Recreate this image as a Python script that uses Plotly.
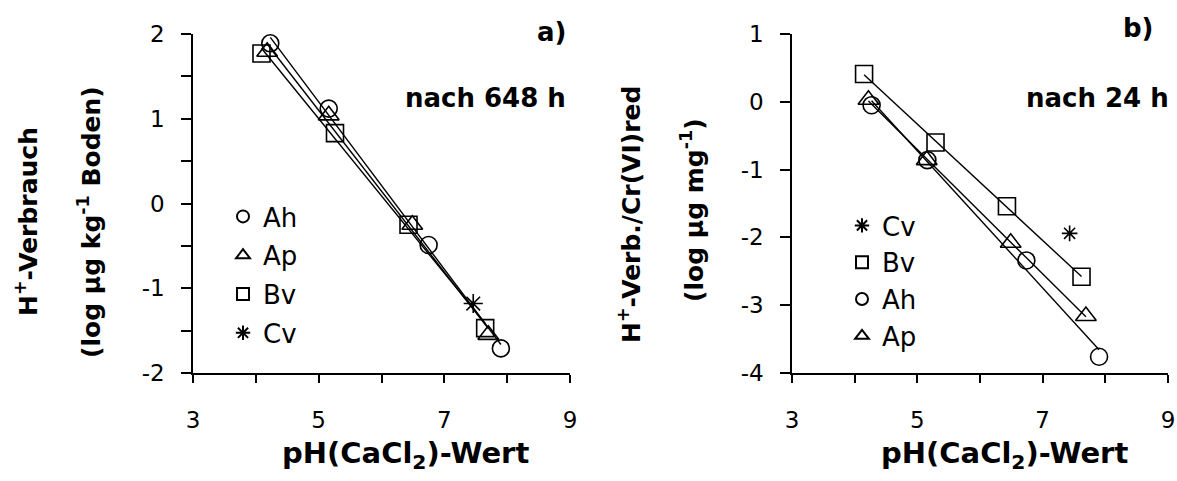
import numpy as np
import plotly.graph_objects as go

FONT = "DejaVu Sans"
W, H = 1177, 481

# ---------------- data ----------------
# Panel a) nach 648 h : pH(CaCl2) vs log H+-Verbrauch
a_ah_ph = [4.23, 5.16, 6.75, 7.90]
a_ah_val = [1.89, 1.12, -0.49, -1.71]
a_ap_ph = [4.18, 5.16, 6.49, 7.70]
a_ap_val = [1.79, 1.04, -0.25, -1.55]
a_bv_ph = [4.09, 5.26, 6.43, 7.65]
a_bv_val = [1.77, 0.83, -0.25, -1.47]
a_cv_ph = [7.46]
a_cv_val = [-1.18]

# Panel b) nach 24 h : pH(CaCl2) vs log H+-Verb./Cr(VI)red
b_cv_ph = [7.43]
b_cv_val = [-1.94]
b_bv_ph = [4.15, 5.29, 6.43, 7.62]
b_bv_val = [0.41, -0.60, -1.54, -2.58]
b_ah_ph = [4.27, 5.16, 6.74, 7.90]
b_ah_val = [-0.05, -0.86, -2.34, -3.76]
b_ap_ph = [4.22, 5.15, 6.49, 7.69]
b_ap_val = [0.03, -0.86, -2.08, -3.16]

# ticks
x_tick_vals = [3, 5, 7, 9]
x_tick_text = ["3", "5", "7", "9"]
ya_tick_vals = [-2, -1, 0, 1, 2]
ya_tick_text = ["-2", "-1", "0", "1", "2"]
yb_tick_vals = [-4, -3, -2, -1, 0, 1]
yb_tick_text = ["-4", "-3", "-2", "-1", "0", "1"]

# ---------------- figure ----------------
fig = go.Figure()


def px_x(p):
    return p / W


def px_y(p):
    return 1 - p / H


def fit_line(xs, ys):
    k, d = np.polyfit(xs, ys, 1)
    xx = np.array([min(xs), max(xs)])
    return xx, k * xx + d


LINE = dict(color="black", width=1.4)
MLINE = dict(color="black", width=1.6)

# panel a: regression lines
for xs, ys in [(a_ah_ph, a_ah_val), (a_ap_ph, a_ap_val), (a_bv_ph, a_bv_val)]:
    lx, ly = fit_line(xs, ys)
    fig.add_trace(go.Scatter(x=lx, y=ly, mode="lines", line=LINE, showlegend=False,
                             hoverinfo="skip", xaxis="x", yaxis="y"))

# panel a: markers
a_series = [
    ("Ah", a_ah_ph, a_ah_val, "circle-open", 17),
    ("Ap", a_ap_ph, a_ap_val, "triangle-up-open", 18),
    ("Bv", a_bv_ph, a_bv_val, "square-open", 17),
    ("Cv", a_cv_ph, a_cv_val, "asterisk-open", 16),
]
for name, xs, ys, sym, sz in a_series:
    fig.add_trace(go.Scatter(x=xs, y=ys, mode="markers", name=name, legendgroup="a" + name,
                             marker=dict(symbol=sym, size=sz, color="black", line=MLINE),
                             xaxis="x", yaxis="y", legend="legend"))

# panel b: regression lines
for xs, ys in [(b_bv_ph, b_bv_val), (b_ah_ph, b_ah_val), (b_ap_ph, b_ap_val)]:
    lx, ly = fit_line(xs, ys)
    fig.add_trace(go.Scatter(x=lx, y=ly, mode="lines", line=LINE, showlegend=False,
                             hoverinfo="skip", xaxis="x2", yaxis="y2"))

b_series = [
    ("Cv", b_cv_ph, b_cv_val, "asterisk-open", 13),
    ("Bv", b_bv_ph, b_bv_val, "square-open", 17),
    ("Ah", b_ah_ph, b_ah_val, "circle-open", 17),
    ("Ap", b_ap_ph, b_ap_val, "triangle-up-open", 18),
]
for name, xs, ys, sym, sz in b_series:
    fig.add_trace(go.Scatter(x=xs, y=ys, mode="markers", name=name, legendgroup="b" + name,
                             marker=dict(symbol=sym, size=sz, color="black", line=MLINE),
                             xaxis="x2", yaxis="y2", legend="legend2"))


def xaxis_cfg(domain, anchor):
    return dict(domain=domain, range=[3, 9], tickvals=x_tick_vals, ticktext=x_tick_text,
                ticks="outside", ticklen=8, tickwidth=1.5, tickcolor="black",
                minor=dict(dtick=1, tick0=3, ticks="outside", ticklen=8, tickwidth=1.5,
                           tickcolor="black", showgrid=False),
                showline=True, linecolor="black", linewidth=1.5,
                showgrid=False, zeroline=False, anchor=anchor, automargin=False,
                tickfont=dict(size=23, color="black", family=FONT),
                ticklabelstandoff=18, fixedrange=True)


def yaxis_cfg(rng, vals, text, anchor, minor_dtick):
    return dict(domain=[px_y(373), px_y(34)], range=rng, tickvals=vals, ticktext=text,
                ticks="outside", ticklen=10, tickwidth=1.5, tickcolor="black",
                minor=dict(dtick=minor_dtick, tick0=0, ticks="outside", ticklen=10,
                           tickwidth=1.5, tickcolor="black", showgrid=False),
                showline=True, linecolor="black", linewidth=1.5,
                showgrid=False, zeroline=False, anchor=anchor, automargin=False,
                tickfont=dict(size=23, color="black", family=FONT),
                ticklabelstandoff=12, fixedrange=True)


leg_common = dict(bgcolor="rgba(0,0,0,0)", borderwidth=0, itemsizing="constant",
                  font=dict(size=26, color="black", family=FONT),
                  xanchor="left", yanchor="top", traceorder="grouped")

fig.update_layout(
    width=W, height=H,
    margin=dict(l=0, r=0, t=0, b=0, autoexpand=False),
    paper_bgcolor="white", plot_bgcolor="white",
    font=dict(family=FONT, color="black"),
    xaxis=xaxis_cfg([px_x(193), px_x(570)], "y"),
    yaxis=yaxis_cfg([-2, 2], ya_tick_vals, ya_tick_text, "x", 0.5),
    xaxis2=xaxis_cfg([px_x(792), px_x(1168)], "y2"),
    yaxis2=yaxis_cfg([-4, 1], yb_tick_vals, yb_tick_text, "x2", 1),
    legend=dict(x=px_x(223), y=px_y(193), tracegroupgap=2, **leg_common),
    legend2=dict(x=px_x(842), y=px_y(202), tracegroupgap=0, **leg_common),
    showlegend=True,
)

ann = []


def add_text(text, x, y, size, xanchor="center", yanchor="middle", angle=0):
    ann.append(dict(text=text, x=px_x(x), y=px_y(y), xref="paper", yref="paper",
                    showarrow=False, xanchor=xanchor, yanchor=yanchor, textangle=angle,
                    font=dict(size=size, color="black", family=FONT)))


# axis titles
add_text("<b>H<sup>+</sup>-Verbrauch</b>", 26, 222, 25, angle=-90)
add_text("<b>(log µg kg<sup>-1</sup> Boden)</b>", 89, 222, 25, angle=-90)
add_text("<b>H<sup>+</sup>-Verb./Cr(VI)red</b>", 629, 215, 25, angle=-90)
add_text("<b>(log µg mg<sup>-1</sup>)</b>", 692, 210, 25, angle=-90)
add_text("<b>pH(CaCl<sub>2</sub>)-Wert</b>", 405, 455, 29)
add_text("<b>pH(CaCl<sub>2</sub>)-Wert</b>", 1004, 455, 29)
# panel labels
add_text("<b>a)</b>", 568, 32, 26, xanchor="right")
add_text("<b>nach 648 h</b>", 568, 98, 26, xanchor="right")
add_text("<b>b)</b>", 1156, 28, 26, xanchor="right")
add_text("<b>nach 24 h</b>", 1171, 98, 26, xanchor="right")

fig.update_layout(annotations=ann)

fig.write_html("out.html",
               config={"displayModeBar": False},
               post_script="document.body.style.margin='0px';document.body.style.overflow='hidden';")
